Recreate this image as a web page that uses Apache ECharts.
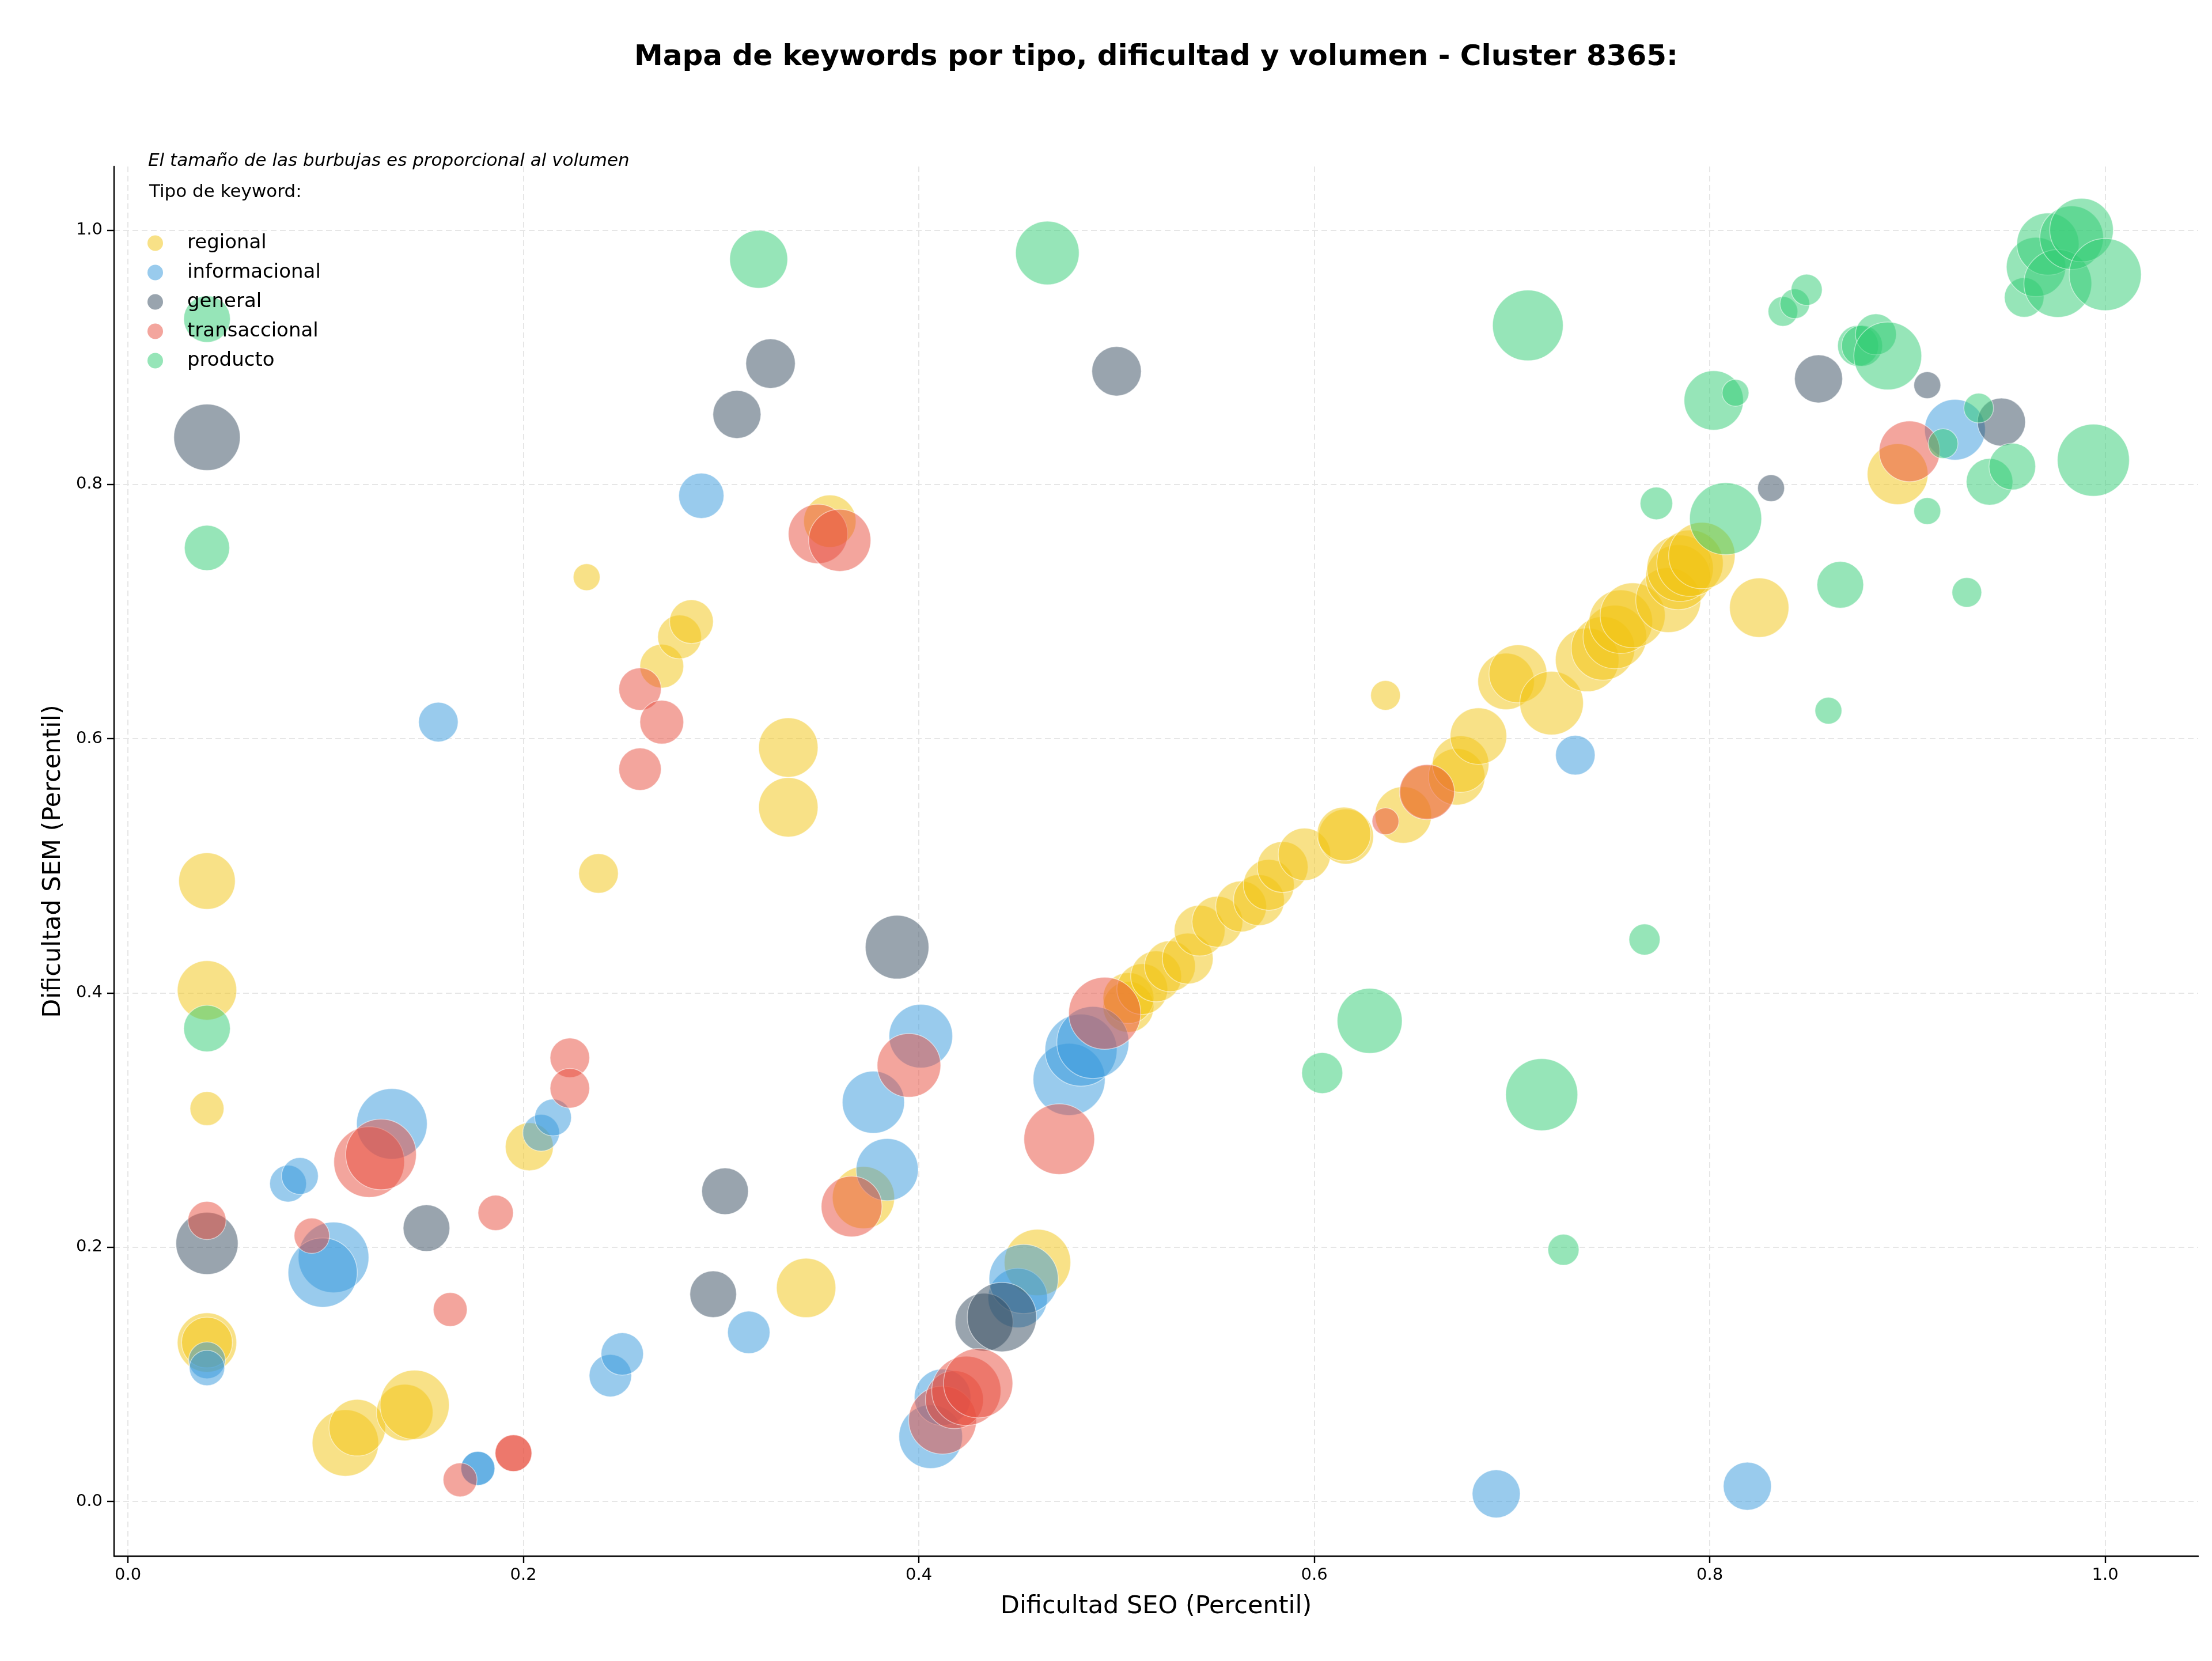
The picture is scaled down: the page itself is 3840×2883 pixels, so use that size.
<!DOCTYPE html>
<html>
<head>
<meta charset="utf-8">
<script src="https://cdn.jsdelivr.net/npm/echarts@6/dist/echarts.min.js"></script>
<style>html,body{margin:0;padding:0;background:#fff}#c{width:3840px;height:2883px}</style>
</head>
<body>
<div id="c"></div>
<script>
// Data: [dificultad SEO, dificultad SEM, volumen]
const categories = ['regional', 'informacional', 'general', 'transaccional', 'producto'];
const regional = [
  [0.040,0.488,1600],[0.040,0.402,1764],[0.040,0.309,576],[0.040,0.125,1764],[0.040,0.125,1296],
  [0.110,0.046,2209],[0.116,0.058,1600],[0.140,0.070,1600],[0.145,0.076,2401],
  [0.203,0.279,1156],[0.232,0.727,361],[0.238,0.494,784],
  [0.270,0.657,961],[0.279,0.680,961],[0.285,0.692,961],
  [0.334,0.593,1764],[0.334,0.546,1764],[0.343,0.168,1764],[0.355,0.771,1369],[0.372,0.239,1936],
  [0.460,0.188,2209],
  [0.506,0.389,1296],[0.506,0.396,1296],[0.513,0.403,1296],[0.520,0.413,1296],[0.527,0.421,1296],
  [0.536,0.427,1296],[0.542,0.449,1296],[0.551,0.456,1296],[0.563,0.468,1296],[0.572,0.473,1296],
  [0.577,0.485,1296],[0.584,0.499,1296],[0.595,0.509,1369],[0.616,0.523,1521],[0.615,0.525,1444],
  [0.636,0.634,441],[0.645,0.540,1600],[0.657,0.558,1444],[0.672,0.570,1600],[0.674,0.580,1600],
  [0.683,0.602,1600],[0.697,0.645,1600],[0.703,0.651,1681],[0.720,0.628,2025],
  [0.738,0.662,2025],[0.746,0.671,2025],[0.752,0.680,2025],[0.755,0.692,2025],[0.761,0.697,2116],
  [0.779,0.709,2116],[0.784,0.727,2116],[0.785,0.734,2209],[0.790,0.738,2209],[0.796,0.744,2209],
  [0.825,0.703,1764],[0.895,0.808,1849]
];
const informacional = [
  [0.040,0.111,676],[0.040,0.105,625],[0.081,0.250,676],[0.087,0.256,676],[0.104,0.192,2500],
  [0.0985,0.180,2401],[0.1335,0.297,2500],[0.157,0.613,784],[0.177,0.026,576],[0.177,0.026,576],
  [0.209,0.290,676],[0.215,0.302,676],[0.244,0.099,900],[0.250,0.116,900],[0.290,0.791,1024],
  [0.314,0.133,900],[0.377,0.314,1936],[0.384,0.261,1936],[0.401,0.366,2025],[0.406,0.051,2025],
  [0.412,0.082,1600],[0.450,0.160,1764],[0.453,0.175,2401],[0.476,0.332,2601],[0.482,0.355,2601],
  [0.488,0.361,2601],[0.692,0.006,1156],[0.732,0.587,784],[0.819,0.012,1156],[0.924,0.843,1849]
];
const general = [
  [0.040,0.837,2209],[0.040,0.203,1936],[0.151,0.215,1089],[0.296,0.163,1089],[0.302,0.244,1089],
  [0.308,0.855,1156],[0.325,0.895,1225],[0.389,0.436,2025],[0.433,0.141,1681],[0.442,0.145,2401],
  [0.500,0.889,1225],[0.831,0.797,361],[0.855,0.883,1156],[0.910,0.878,361],[0.9475,0.849,1156]
];
const transaccional = [
  [0.040,0.221,729],[0.093,0.209,625],[0.122,0.267,2500],[0.128,0.273,2500],[0.163,0.151,576],
  [0.168,0.017,576],[0.186,0.227,625],[0.195,0.038,676],[0.195,0.038,676],[0.2235,0.349,784],
  [0.2235,0.325,784],[0.259,0.639,900],[0.270,0.613,961],[0.259,0.576,900],[0.349,0.761,1764],
  [0.360,0.756,1936],[0.366,0.232,1849],[0.395,0.343,2025],[0.412,0.064,2304],[0.418,0.080,1681],
  [0.424,0.087,2401],[0.430,0.093,2401],[0.471,0.285,2500],[0.494,0.384,2601],[0.636,0.535,361],
  [0.657,0.558,1521],[0.901,0.826,1849]
];
const producto = [
  [0.040,0.930,1089],[0.040,0.750,1024],[0.040,0.372,1089],[0.319,0.977,1681],[0.465,0.982,2025],
  [0.604,0.337,841],[0.628,0.378,2116],[0.708,0.925,2500],[0.715,0.320,2601],[0.726,0.198,484],
  [0.767,0.442,484],[0.773,0.785,529],[0.802,0.866,1764],[0.808,0.773,2601],[0.813,0.872,361],
  [0.837,0.936,441],[0.843,0.942,441],[0.849,0.953,484],[0.860,0.622,361],[0.866,0.721,1089],
  [0.875,0.909,841],[0.877,0.909,841],[0.884,0.918,841],[0.890,0.901,2304],[0.910,0.779,361],
  [0.918,0.832,441],[0.930,0.715,441],[0.936,0.860,441],[0.9415,0.802,1089],[0.953,0.814,1089],
  [0.959,0.947,784],[0.965,0.971,1764],[0.971,0.989,1936],[0.976,0.958,2304],[0.983,0.994,2025],
  [0.988,1.000,2025],[0.994,0.819,2601],[1.000,0.965,2601]
];
const tickValues = [0.0, 0.2, 0.4, 0.6, 0.8, 1.0];

const seriesData = [regional, informacional, general, transaccional, producto];
const colors = ['rgba(241,196,15,0.5)','rgba(52,152,219,0.5)','rgba(52,73,94,0.5)','rgba(231,76,60,0.5)','rgba(46,204,113,0.5)'];
const FONT = 'DejaVu Sans';

const chart = echarts.init(document.getElementById('c'), null, {renderer: 'canvas', width: 3840, height: 2883});

const series = categories.map((name, i) => ({
  name: name,
  type: 'scatter',
  data: seriesData[i],
  symbol: 'circle',
  symbolSize: v => Math.sqrt(v[2]) * 2.45,
  itemStyle: { color: colors[i], opacity: 1, borderColor: 'rgba(255,255,255,0.5)', borderWidth: 1.5 },
  emphasis: { disabled: true },
  animation: false
}));

const axisCommon = {
  type: 'value',
  axisLine: { show: true, onZero: false, lineStyle: { color: '#000', width: 2.4 } },
  axisTick: { show: true, inside: false, length: 12, lineStyle: { color: '#000', width: 2.4 }, customValues: tickValues },
  axisLabel: { color: '#000', fontFamily: FONT, fontSize: 29, customValues: tickValues, formatter: v => v.toFixed(1) },
  splitLine: { show: true, lineStyle: { color: '#e6e6e6', width: 2, type: [10, 6] } },
  nameLocation: 'middle',
  nameTextStyle: { color: '#000', fontFamily: FONT, fontSize: 43 }
};

chart.setOption({
  backgroundColor: '#fff',
  animation: false,
  grid: { left: 198, right: 24, top: 289, bottom: 182, containLabel: false },
  xAxis: Object.assign({}, axisCommon, {
    min: -0.007, max: 1.047,
    name: 'Dificultad SEO (Percentil)', nameGap: 66,
    axisLabel: Object.assign({}, axisCommon.axisLabel, { margin: 19 })
  }),
  yAxis: Object.assign({}, axisCommon, {
    min: -0.043, max: 1.05,
    name: 'Dificultad SEM (Percentil)', nameGap: 84,
    axisLabel: Object.assign({}, axisCommon.axisLabel, { margin: 20 })
  }),
  legend: {
    orient: 'vertical', left: 251, top: 400,
    itemWidth: 27, itemHeight: 27, itemGap: 17,
    icon: 'circle',
    data: categories,
    textStyle: { color: '#000', fontFamily: FONT, fontSize: 34, lineHeight: 27, padding: [0, 0, 0, 37] },
    itemStyle: { borderWidth: 0 }
  },
  graphic: [
    { type: 'text', x: 2007, y: 100, silent: true,
      style: { text: 'Mapa de keywords por tipo, dificultad y volumen - Cluster 8365:', fontFamily: FONT, fontSize: 50, fontWeight: 'bold', fill: '#000', textAlign: 'center', textVerticalAlign: 'middle' } },
    { type: 'text', x: 257, y: 280, silent: true,
      style: { text: 'El tamaño de las burbujas es proporcional al volumen', fontFamily: FONT, fontSize: 31, fontStyle: 'italic', fill: '#000', textAlign: 'left', textVerticalAlign: 'middle' } },
    { type: 'text', x: 259, y: 334, silent: true,
      style: { text: 'Tipo de keyword:', fontFamily: FONT, fontSize: 31, fill: '#000', textAlign: 'left', textVerticalAlign: 'middle' } }
  ],
  series: series
});
</script>
</body>
</html>
